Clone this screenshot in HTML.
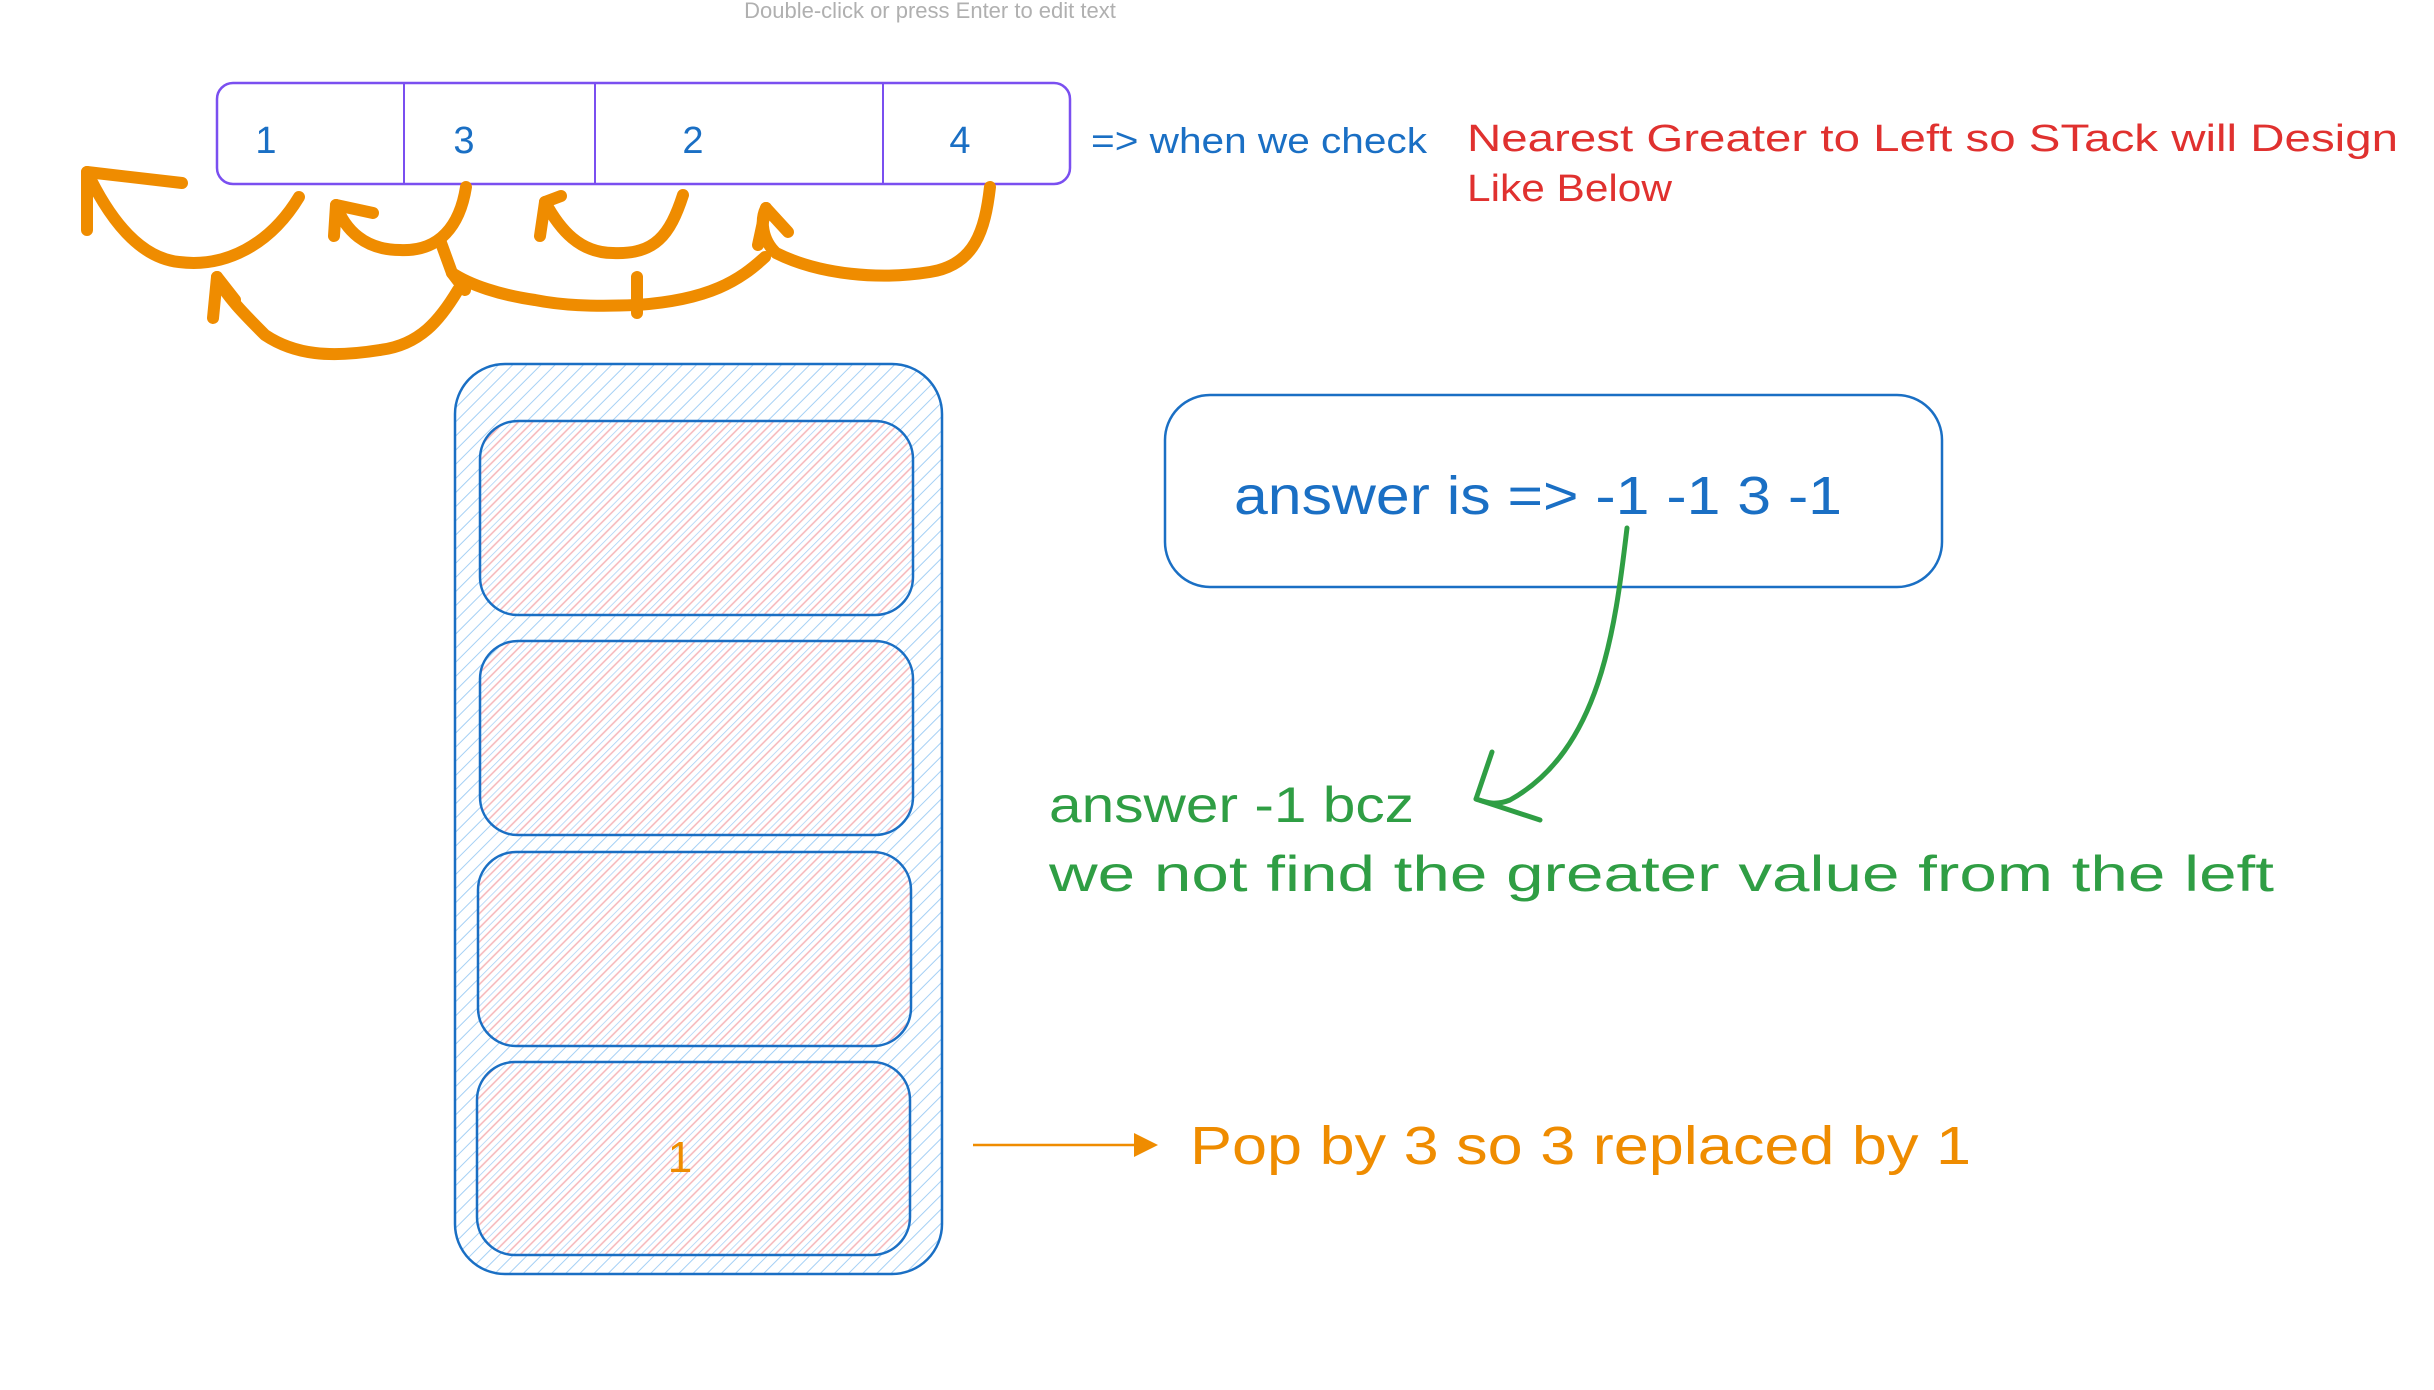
<!DOCTYPE html>
<html><head><meta charset="utf-8"><style>
html,body{margin:0;padding:0;background:#fff;width:2434px;height:1390px;overflow:hidden}
svg{display:block}
text{font-family:"Liberation Sans",sans-serif}
</style></head><body>
<svg width="2434" height="1390" viewBox="0 0 2434 1390" xmlns="http://www.w3.org/2000/svg">
<defs>
<pattern id="hb" width="10" height="10" patternUnits="userSpaceOnUse" patternTransform="rotate(45)">
<line x1="0" y1="0" x2="0" y2="10" stroke="#a5d0f5" stroke-width="2"/>
</pattern>
<pattern id="hp" width="10" height="10" patternUnits="userSpaceOnUse" patternTransform="rotate(45)">
<line x1="0" y1="0" x2="0" y2="10" stroke="#a5d0f5" stroke-width="1.5"/>
<line x1="5" y1="0" x2="5" y2="10" stroke="#f5b5b8" stroke-width="1.5"/>
</pattern>
</defs>

<text x="930" y="18" font-size="22" fill="#b0b0b0" text-anchor="middle">Double-click or press Enter to edit text</text>

<!-- array -->
<rect x="217" y="83" width="853" height="101" rx="16" fill="none" stroke="#7a4ff0" stroke-width="2.5"/>
<line x1="404" y1="83" x2="404" y2="184" stroke="#7a4ff0" stroke-width="2"/>
<line x1="595" y1="83" x2="595" y2="184" stroke="#7a4ff0" stroke-width="2"/>
<line x1="883" y1="83" x2="883" y2="184" stroke="#7a4ff0" stroke-width="2"/>
<g font-size="38" fill="#1a6fc4" text-anchor="middle">
<text x="266" y="153">1</text><text x="464" y="153">3</text><text x="693" y="153">2</text><text x="960" y="153">4</text>
</g>
<text x="1091" y="153" font-size="36" fill="#1a6fc4" textLength="336" lengthAdjust="spacingAndGlyphs">=&gt; when we check</text>
<text x="1467" y="151" font-size="38" fill="#e0312f" textLength="931" lengthAdjust="spacingAndGlyphs">Nearest Greater to Left so STack will Design</text>
<text x="1467" y="201" font-size="38" fill="#e0312f" textLength="205" lengthAdjust="spacingAndGlyphs">Like Below</text>

<!-- orange arrows -->
<g fill="none" stroke="#ef8c00" stroke-width="12" stroke-linecap="round" stroke-linejoin="round">
<path d="M299,197 C270,245 225,268 179,262 C140,258 110,220 87,172"/>
<path d="M87,172 L87,230 M87,172 L182,183"/>
<path d="M466,187 C460,225 440,252 400,250 C365,250 345,230 336,205"/>
<path d="M336,205 L334,236 M336,205 L373,213"/>
<path d="M683,195 C670,235 655,255 613,253 C580,253 560,230 545,202"/>
<path d="M545,202 L540,236 M545,202 L561,196"/>
<path d="M990,187 C985,230 975,265 930,272 C880,280 820,275 776,253 C762,240 760,220 766,208"/>
<path d="M766,208 L758,245 M766,208 L788,232"/>
<path d="M765,257 C740,280 710,300 637,305 C590,307 560,305 535,300 C500,295 470,285 452,273"/>
<path d="M637,277 L637,313 M452,273 L440,240 M452,273 L465,290"/>
<path d="M458,290 C440,320 420,345 380,350 C330,358 295,355 265,335 C245,315 225,295 217,277"/>
<path d="M217,277 L213,318 M217,277 L235,300"/>
</g>

<!-- stack -->
<rect x="455" y="364" width="487" height="910" rx="50" fill="url(#hb)" stroke="#1a6fc4" stroke-width="2.5"/>
<rect x="480" y="421" width="433" height="194" rx="38" fill="#fff" stroke="none"/>
<rect x="480" y="421" width="433" height="194" rx="38" fill="url(#hp)" stroke="#1a6fc4" stroke-width="2.5"/>
<rect x="480" y="641" width="433" height="194" rx="38" fill="#fff" stroke="none"/>
<rect x="480" y="641" width="433" height="194" rx="38" fill="url(#hp)" stroke="#1a6fc4" stroke-width="2.5"/>
<rect x="478" y="852" width="433" height="194" rx="38" fill="#fff" stroke="none"/>
<rect x="478" y="852" width="433" height="194" rx="38" fill="url(#hp)" stroke="#1a6fc4" stroke-width="2.5"/>
<rect x="477" y="1062" width="433" height="193" rx="38" fill="#fff" stroke="none"/>
<rect x="477" y="1062" width="433" height="193" rx="38" fill="url(#hp)" stroke="#1a6fc4" stroke-width="2.5"/>
<text x="680" y="1172" font-size="44" fill="#ef8c00" text-anchor="middle">1</text>

<!-- answer box -->
<rect x="1165" y="395" width="777" height="192" rx="45" fill="none" stroke="#1a6fc4" stroke-width="2.5"/>
<text x="1234" y="514" font-size="54" fill="#1a6fc4" textLength="608" lengthAdjust="spacingAndGlyphs">answer is =&gt; -1 -1 3 -1</text>

<!-- green arrow -->
<g fill="none" stroke="#2f9e44" stroke-width="5" stroke-linecap="round">
<path d="M1627,528 C1615,630 1600,750 1510,800 C1495,806 1485,802 1476,799"/>
<path d="M1476,799 L1492,752 M1476,799 L1540,820"/>
</g>
<text x="1049" y="822" font-size="50" fill="#2f9e44" textLength="365" lengthAdjust="spacingAndGlyphs">answer -1 bcz</text>
<text x="1049" y="891" font-size="50" fill="#2f9e44" textLength="1225" lengthAdjust="spacingAndGlyphs">we not find the greater value from the left</text>

<!-- orange pop arrow -->
<line x1="973" y1="1145" x2="1140" y2="1145" stroke="#ef8c00" stroke-width="2.5"/>
<polygon points="1158,1145 1134,1133 1134,1157" fill="#ef8c00"/>
<text x="1190" y="1164" font-size="54" fill="#ef8c00" textLength="781" lengthAdjust="spacingAndGlyphs">Pop by 3 so 3 replaced by 1</text>
</svg>
</body></html>
